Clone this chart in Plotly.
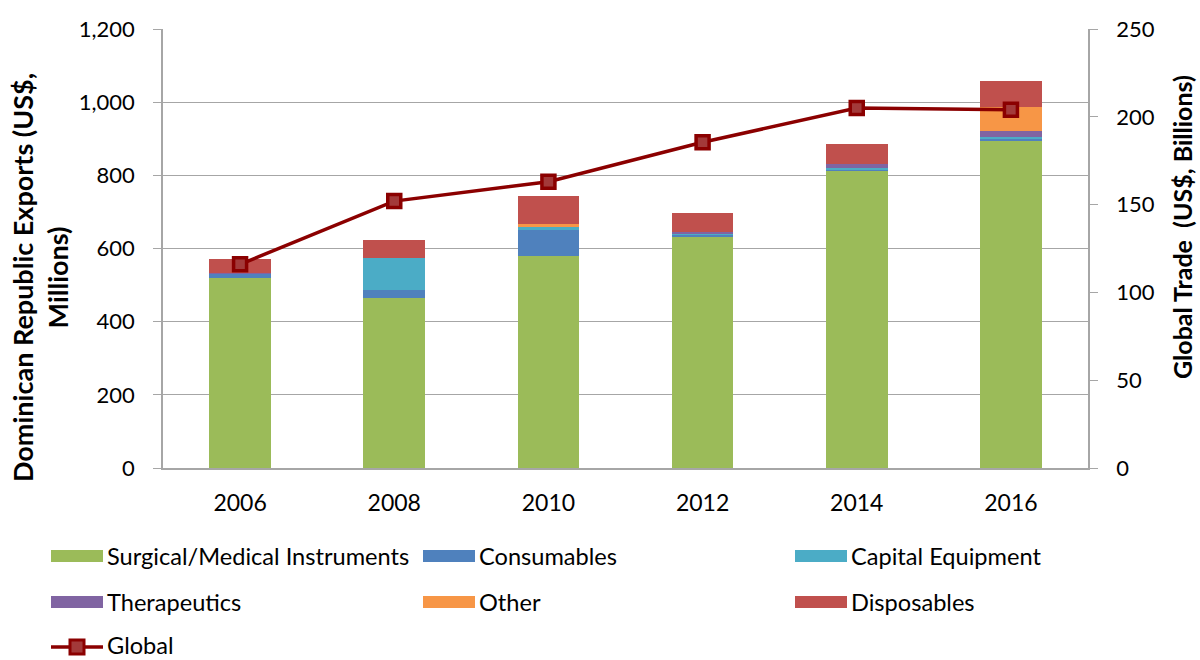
import plotly.graph_objects as go

years = ["2006", "2008", "2010", "2012", "2014", "2016"]

# Dominican Republic exports by segment (US$, millions)
surgical = [520, 464, 580, 634, 813, 895]
consumables = [12, 22, 70, 4, 4, 7]
capital = [0, 89, 11, 2, 3, 4]
therapeutics = [2, 0, 0, 5, 11, 16]
other = [0, 0, 5, 0, 0, 66]
disposables = [38, 48, 77, 51, 54, 70]

# Global trade (US$, billions)
global_trade = [116, 152, 163, 185.5, 205, 204]

series_names = ["Surgical/Medical Instruments", "Consumables", "Capital Equipment",
                "Therapeutics", "Other", "Disposables"]
series_values = [surgical, consumables, capital, therapeutics, other, disposables]
series_colors = ["#9BBB59", "#4F81BD", "#4BACC6", "#8064A2", "#F79646", "#C0504D"]

FONT = "Lato"
LINE = "#8B0000"
GRID = "#A6A6A6"

fig = go.Figure()
for name, vals, col in zip(series_names, series_values, series_colors):
    fig.add_trace(go.Bar(x=years, y=vals, name=name, marker=dict(color=col, line=dict(width=0)),
                         showlegend=False))

fig.add_trace(go.Scatter(
    x=years, y=global_trade, name="Global", yaxis="y2", mode="lines+markers",
    line=dict(color=LINE, width=3.5),
    marker=dict(symbol="square", size=13, color="#A33A3A", line=dict(color=LINE, width=3.5)),
    showlegend=False,
))

# Plot-area geometry in pixels (for placing legend and axis titles)
W, H = 1200, 660
L, R, T, B = 163, 112, 29, 192
pw, ph = W - L - R, H - T - B

def px_x(x):
    return (x - L) / pw

def px_y(y):
    return (H - B - y) / ph

shapes = []
annotations = []
legend_cols = [51, 423, 795]
legend_rows = [556, 602]
sw_w, sw_h = 52, 12
LEG_SIZE = 23.6
for i, (name, col) in enumerate(zip(series_names, series_colors)):
    cx = legend_cols[i % 3]
    cy = legend_rows[i // 3]
    shapes.append(dict(type="rect", xref="paper", yref="paper",
                       x0=px_x(cx), x1=px_x(cx + sw_w),
                       y0=px_y(cy + sw_h / 2), y1=px_y(cy - sw_h / 2),
                       fillcolor=col, line=dict(width=0)))
    annotations.append(dict(xref="paper", yref="paper", x=px_x(cx + sw_w + 3), y=px_y(cy),
                            text=name, showarrow=False, xanchor="left", yanchor="middle",
                            borderpad=0,
                            font=dict(family=FONT, size=LEG_SIZE, color="#000")))

# Global entry: line with square marker
gy = 647
shapes.append(dict(type="line", xref="paper", yref="paper",
                   x0=px_x(51), x1=px_x(51 + sw_w), y0=px_y(gy), y1=px_y(gy),
                   line=dict(color=LINE, width=3.5)))
shapes.append(dict(type="rect", xref="paper", yref="paper",
                   x0=px_x(77 - 7), x1=px_x(77 + 7), y0=px_y(gy + 7), y1=px_y(gy - 7),
                   fillcolor="#A33A3A", line=dict(color=LINE, width=3)))
annotations.append(dict(xref="paper", yref="paper", x=px_x(51 + sw_w + 3), y=px_y(gy - 2),
                        text="Global", showarrow=False, xanchor="left", yanchor="middle",
                        borderpad=0,
                        font=dict(family=FONT, size=LEG_SIZE, color="#000")))

# Axis titles
annotations.append(dict(xref="paper", yref="paper", x=px_x(40), y=px_y(278),
                        text="<b>Dominican Republic Exports (US$,<br>Millions)</b>",
                        textangle=-90, showarrow=False, xanchor="center", yanchor="middle",
                        font=dict(family=FONT, size=27, color="#000")))
annotations.append(dict(xref="paper", yref="paper", x=px_x(1182), y=px_y(227),
                        text="<b>Global Trade  (US$, Billions)</b>",
                        textangle=-90, showarrow=False, xanchor="center", yanchor="middle",
                        font=dict(family=FONT, size=25, color="#000")))

fig.update_layout(
    width=W, height=H,
    margin=dict(l=L, r=R, t=T, b=B, pad=0),
    paper_bgcolor="white", plot_bgcolor="white",
    barmode="stack", bargap=0.6,
    font=dict(family=FONT, size=22, color="#000"),
    shapes=shapes, annotations=annotations,
    xaxis=dict(showline=True, linecolor=GRID, linewidth=1.5, ticks="",
               tickfont=dict(size=23), ticklabelstandoff=14),
    yaxis=dict(range=[0, 1200], dtick=200, tickformat=",", showgrid=True,
               gridcolor=GRID, gridwidth=1.3, showline=True, linecolor=GRID,
               linewidth=1.5, ticks="outside", ticklen=8, tickcolor=GRID,
               tickfont=dict(size=22), ticklabelstandoff=14, zeroline=False),
    yaxis2=dict(range=[0, 250], dtick=50, overlaying="y", side="right", showgrid=False,
                showline=True, linecolor=GRID, linewidth=1.5, ticks="outside",
                ticklen=8, tickcolor=GRID, tickfont=dict(size=22), ticklabelstandoff=14,
                zeroline=False),
)

fig.write_html("out.html")
